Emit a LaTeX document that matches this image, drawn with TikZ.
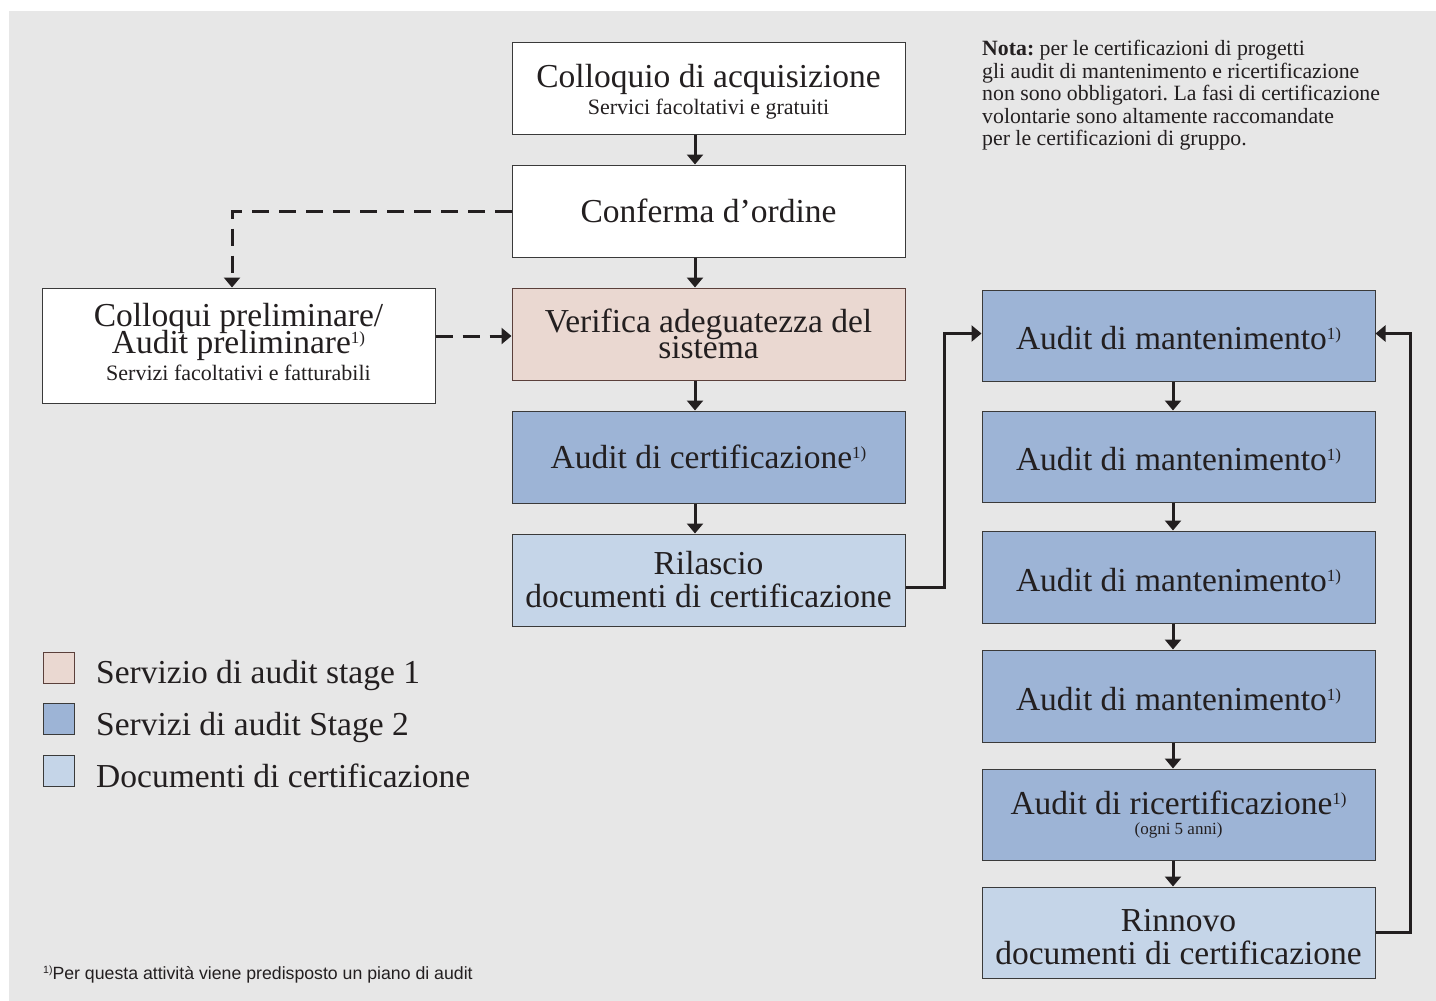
\documentclass[tikz,border=0pt]{standalone}
\usepackage{fontspec}
\setmainfont{Liberation Serif}
\newfontfamily\fnsans{Liberation Sans}
\usetikzlibrary{arrows.meta}
\definecolor{bg}{HTML}{E7E7E7}
\definecolor{ink}{HTML}{231F20}
\definecolor{sOne}{HTML}{EAD8D1}
\definecolor{sOneLine}{HTML}{5B403B}
\definecolor{sTwo}{HTML}{9DB4D6}
\definecolor{docs}{HTML}{C5D5E8}
\definecolor{boxline}{HTML}{3A3A3A}
\newcommand\fnm{\raisebox{10pt}{\fontsize{17}{17}\selectfont 1)}}
\newcommand\boxfont[1]{\fontsize{33.5}{#1}\selectfont}
\newcommand\mant{\rule{0pt}{29pt}Audit di mantenimento\fnm}
\tikzset{
  box/.style={draw=boxline, line width=1pt, fill=white, minimum width=393pt,
    minimum height=92pt, inner sep=0pt, align=center, text=ink,
    font=\boxfont{27}},
  stageone/.style={box, fill=sOne, draw=sOneLine},
  stagetwo/.style={box, fill=sTwo},
  docbox/.style={box, fill=docs},
  flow/.style={draw=ink, line width=3pt, -{Triangle[width=16pt,length=10pt]}},
  dashflow/.style={flow, dash pattern=on 17pt off 10pt},
  legsq/.style={minimum size=31pt, inner sep=0pt, line width=1pt, draw=boxline},
  legtxt/.style={anchor=base west, inner sep=0pt, text=ink, font=\boxfont{33.5}},
}
\begin{document}
\lineskiplimit=-100pt
\frenchspacing
\begin{tikzpicture}[x=1pt, y=-1pt]
\useasboundingbox (0,0) rectangle (1436,1001);
\fill[bg] (9,11) rectangle (1436,1001);

% middle column
\node[box, font=\boxfont{27}] (acq) at (708.5,88)
  {\rule{0pt}{30pt}Colloquio di acquisizione\\{\fontsize{22}{27}\selectfont Servici facoltativi e gratuiti}};
\node[box] (conf) at (708.5,211) {Conferma d’ordine};
\node[stageone, font=\boxfont{26}] (ver) at (708.5,334)
  {Verifica adeguatezza del\\sistema};
\node[stagetwo] (cert) at (708.5,457) {Audit di certificazione\fnm};
\node[docbox, font=\boxfont{33}] (ril) at (708.5,580)
  {Rilascio\\documenti di certificazione};

% left box
\node[box, minimum height=115pt] (pre) at (238.5,345.5)
  {Colloqui preliminare/\\Audit preliminare\fnm\\{\fontsize{22}{27}\selectfont Servizi facoltativi e fatturabili\rule[-8pt]{0pt}{8pt}}};

% right column
\node[stagetwo, minimum height=91pt] (m1) at (1178.5,335.5) {\mant};
\node[stagetwo, minimum height=91pt] (m2) at (1178.5,456.5) {\mant};
\node[stagetwo, minimum height=92pt] (m3) at (1178.5,577) {\mant};
\node[stagetwo, minimum height=92pt] (m4) at (1178.5,696) {\mant};
\node[stagetwo, minimum height=91pt, font=\boxfont{20}] (ric) at (1178.5,814.5)
  {Audit di ricertificazione\fnm\\{\fontsize{17}{20}\selectfont (ogni 5 anni)}};
\node[docbox, minimum height=91pt, font=\boxfont{33}] (rin) at (1178.5,932.5)
  {\rule{0pt}{32pt}Rinnovo\\documenti di certificazione};

% note
\node[anchor=north west, inner sep=0pt, align=left, text=ink,
  font=\fontsize{21.8}{22.5}\selectfont] (note) at (982,40)
  {\textbf{Nota:} per le certificazioni di progetti\\
   gli audit di mantenimento e ricertificazione\\
   non sono obbligatori. La fasi di certificazione\\
   volontarie sono altamente raccomandate\\
   per le certificazioni di gruppo.};

% legend
\node[legsq, fill=sOne, draw=sOneLine] (l1) at (58.5,667.5) {};
\node[legsq, fill=sTwo] (l2) at (58.5,718.5) {};
\node[legsq, fill=docs] (l3) at (58.5,770.5) {};
\node[legtxt] (t1) at (96,683) {Servizio di audit stage 1};
\node[legtxt] (t2) at (96,735) {Servizi di audit Stage 2};
\node[legtxt] (t3) at (96,787) {Documenti di certificazione};

% footnote
\node[anchor=base west, inner sep=0pt, text=ink, font=\fnsans\fontsize{17.7}{20}\selectfont] (foot) at (43,979)
  {\raisebox{6pt}{\fontsize{10.5}{10}\selectfont 1)}Per questa attività viene predisposto un piano di audit};

% connectors
\draw[flow] ([xshift=-13.5pt]acq.south) -- ([xshift=-13.5pt]conf.north);
\draw[flow] ([xshift=-13.5pt]conf.south) -- ([xshift=-13.5pt]ver.north);
\draw[flow] ([xshift=-13.5pt]ver.south) -- ([xshift=-13.5pt]cert.north);
\draw[flow] ([xshift=-13.5pt]cert.south) -- ([xshift=-13.5pt]ril.north);
\draw[dashflow] (conf.west) -| ([xshift=-6.5pt]pre.north);
\draw[dashflow] ([yshift=-2pt]pre.east |- ver.west) -- ([yshift=-2pt]ver.west);
\draw[flow] ([yshift=-7pt]ril.east) -- ([yshift=-7pt,xshift=39pt]ril.east) |- ([yshift=2pt]m1.west);
\draw[flow] ([xshift=-5.5pt]m1.south) -- ([xshift=-5.5pt]m2.north);
\draw[flow] ([xshift=-5.5pt]m2.south) -- ([xshift=-5.5pt]m3.north);
\draw[flow] ([xshift=-5.5pt]m3.south) -- ([xshift=-5.5pt]m4.north);
\draw[flow] ([xshift=-5.5pt]m4.south) -- ([xshift=-5.5pt]ric.north);
\draw[flow] ([xshift=-5.5pt]ric.south) -- ([xshift=-5.5pt]rin.north);
\draw[flow] (rin.east) -- ([xshift=35pt]rin.east) |- ([yshift=2pt]m1.east);
\end{tikzpicture}
\end{document}
